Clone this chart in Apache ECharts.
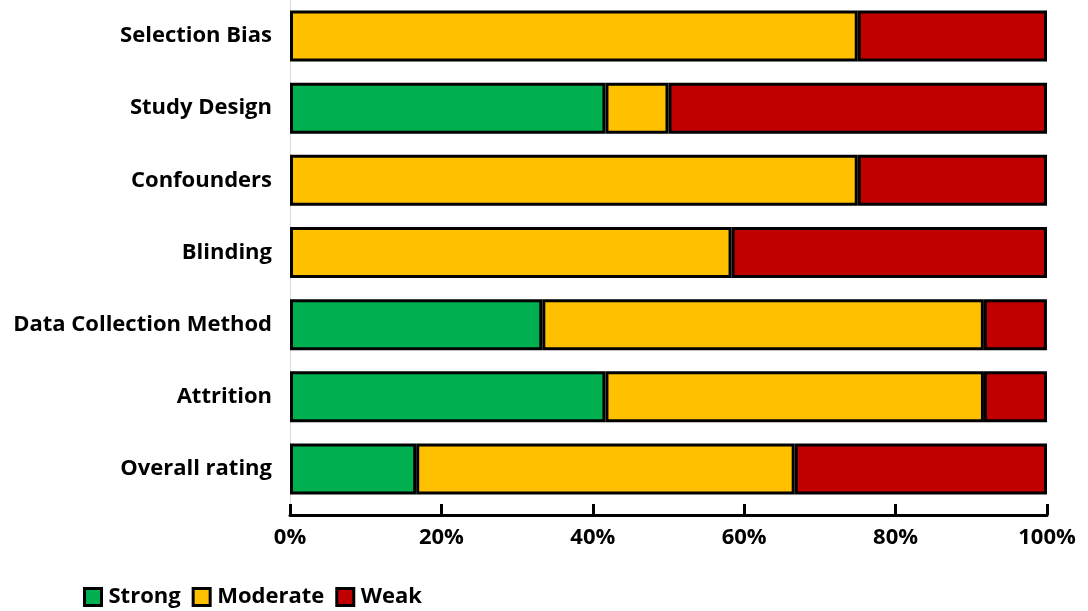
<!DOCTYPE html>
<html><head><meta charset="utf-8">
<script src="https://cdn.jsdelivr.net/npm/echarts@6/dist/echarts.min.js"></script>
<style>html,body{margin:0;padding:0;background:#fff}#c{width:1088px;height:611px}</style>
</head><body><div id="c"></div>
<script>
const categories = ['Selection Bias','Study Design','Confounders','Blinding','Data Collection Method','Attrition','Overall rating'];
const strong   = [0, 41.67, 0, 0, 33.33, 41.67, 16.67];
const moderate = [75, 8.33, 75, 58.33, 58.33, 50, 50];
const weak     = [25, 50, 25, 41.67, 8.33, 8.33, 33.33];
const xTicks = [0,20,40,60,80,100];

const font = 'Open Sans';
const fs = 22;
const chart = echarts.init(document.getElementById('c'));
function s(name, data, color){
  return {name, type:'bar', stack:'t', data:data.map(v=>v===0?'-':v), barWidth:51,
    itemStyle:{color, borderColor:'#000', borderWidth:3},
    emphasis:{disabled:true}};
}
chart.setOption({
  animation:false,
  textStyle:{fontFamily:font},
  grid:{left:290, right:41, top:-2, bottom:106, containLabel:false},
  xAxis:{type:'value', min:xTicks[0], max:xTicks[xTicks.length-1], interval:20, offset:10,
    axisLine:{show:true, lineStyle:{color:'#000', width:3}},
    axisTick:{show:true, inside:true, length:11, lineStyle:{color:'#000', width:3}},
    splitLine:{show:false},
    axisLabel:{formatter:v=>v+'%', fontSize:fs, fontWeight:'bold', color:'#000', margin:12, fontFamily:font}},
  yAxis:{type:'category', data:categories, inverse:true,
    axisLine:{show:true, lineStyle:{color:'#d9d9d9', width:1}},
    axisTick:{show:false},
    axisLabel:{fontSize:fs, fontWeight:'bold', color:'#000', margin:18, fontFamily:font}},
  legend:{left:78, top:581, itemWidth:17, itemHeight:17, itemGap:11,
    textStyle:{fontSize:fs, fontWeight:'bold', color:'#000', fontFamily:font, padding:[0,0,0,2]},
    data:[{name:'Strong',icon:'rect'},{name:'Moderate',icon:'rect'},{name:'Weak',icon:'rect'}],
    itemStyle:{borderColor:'#000', borderWidth:3}},
  series:[s('Strong',strong,'#00B050'), s('Moderate',moderate,'#FFC000'), s('Weak',weak,'#C00000')]
});
</script></body></html>
